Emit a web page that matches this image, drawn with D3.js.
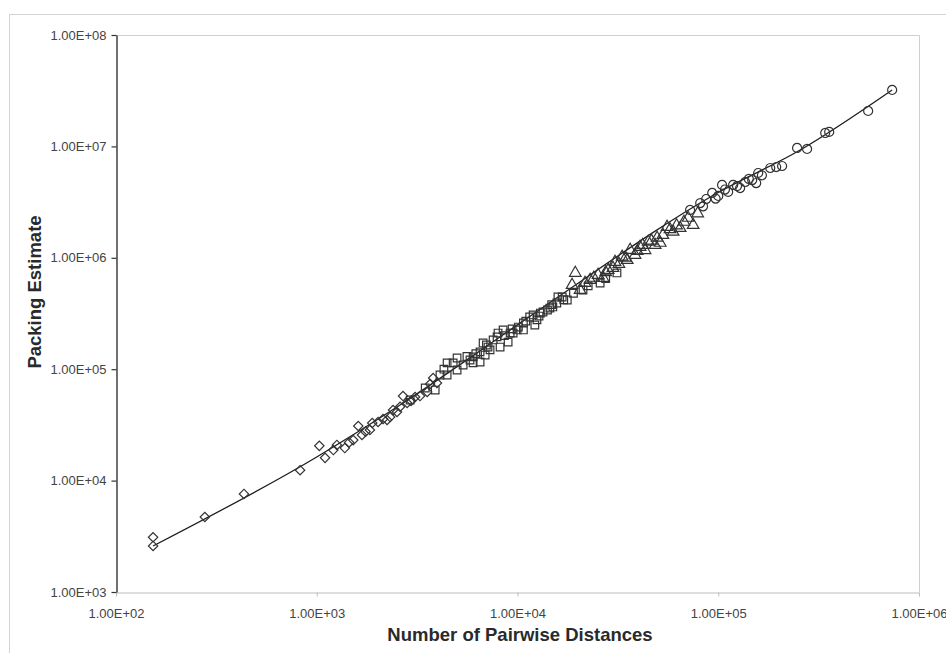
<!DOCTYPE html>
<html>
<head>
<meta charset="utf-8">
<script src="https://cdn.jsdelivr.net/npm/d3@7"></script>
<style>
  body { margin: 0; background: #fff; }
  svg { display: block; font-family: Arial, "Liberation Sans", sans-serif; }
</style>
</head>
<body>
<script>
// tick values and their labels
var xTicks = [1e2, 1e3, 1e4, 1e5, 1e6];
var xTickLabels = ["1.00E+02", "1.00E+03", "1.00E+04", "1.00E+05", "1.00E+06"];
var yTicks = [1e3, 1e4, 1e5, 1e6, 1e7, 1e8];
var yTickLabels = ["1.00E+03", "1.00E+04", "1.00E+05", "1.00E+06", "1.00E+07", "1.00E+08"];

// diamonds: [pairwise distances, packing estimate]
var diamonds = [
  [153, 3100], [153, 2590], [277, 4710], [434, 7590], [826, 12400],
  [1030, 20500], [1100, 16000], [1210, 18800], [1260, 20900], [1380, 19600],
  [1450, 22000], [1520, 23100], [1610, 30900], [1680, 25700], [1750, 27500],
  [1840, 28500], [1890, 32900], [2020, 33600], [2140, 35700], [2240, 35000],
  [2320, 37200], [2400, 43000], [2510, 41300], [2600, 46000], [2690, 57400],
  [2820, 49700], [2950, 52000], [3090, 56300], [3270, 57400], [3550, 62400],
  [3670, 73600], [3800, 83400], [3970, 75200]
];

// squares
var squares = [
  [2920, 52900], [3470, 67800], [3890, 65000], [4110, 88700], [4300, 100000],
  [4460, 88700], [4460, 114000], [4780, 114000], [5000, 98400], [5000, 126000],
  [5360, 109000], [5600, 130000], [5800, 121000], [6010, 129000], [6010, 114000],
  [6200, 138000], [6510, 116000], [6510, 143000], [6740, 172000], [6900, 134000],
  [7000, 165000], [7130, 158000], [7300, 149000], [7560, 183000], [7910, 195000],
  [8000, 211000], [8190, 158000], [8480, 225000], [8600, 200000], [8980, 175000],
  [9190, 211000], [9400, 230000], [9510, 211000], [9950, 225000], [10100, 239000],
  [10700, 260000], [10700, 225000], [11000, 270000], [11500, 294000], [11960, 307000],
  [12200, 249000], [12500, 277000], [12800, 300000], [13000, 319000], [13400, 326000],
  [14100, 340000], [14500, 354000], [14800, 380000], [15000, 362000], [15700, 393000],
  [15900, 445000], [16700, 445000], [17000, 420000], [17700, 418000], [19000, 480000],
  [21200, 514000], [22500, 560000], [25800, 594000], [27500, 650000], [31300, 731000]
];

// triangles
var triangles = [
  [18700, 570000], [19400, 731000], [20500, 514000], [21700, 594000], [23000, 632000],
  [24000, 660000], [25200, 701000], [26700, 659000], [27500, 740000], [28300, 777000],
  [29900, 810000], [30600, 917000], [32000, 880000], [33200, 1020000], [34500, 1000000],
  [35200, 955000], [36400, 1175000], [38500, 1060000], [39500, 1150000], [40800, 1250000],
  [42000, 1300000], [43200, 1170000], [44800, 1390000], [46500, 1420000], [48500, 1300000],
  [49600, 1510000], [51400, 1360000], [53000, 1600000], [55600, 1890000], [57500, 1800000],
  [59600, 1710000], [62000, 1950000], [64600, 1850000], [67500, 2100000], [70800, 2280000],
  [75000, 1970000], [79000, 2500000]
];

// circles
var circles = [
  [72400, 2690000], [81300, 3100000], [84000, 2900000], [87100, 3370000], [93300, 3820000],
  [97000, 3400000], [100000, 3590000], [104500, 4510000], [108000, 4100000], [112000, 3900000],
  [118600, 4510000], [124000, 4400000], [128500, 4230000], [136200, 4790000], [142000, 5100000],
  [147600, 4990000], [154500, 4690000], [158100, 5770000], [165000, 5500000], [181500, 6400000],
  [194400, 6530000], [208000, 6670000], [247000, 9680000], [277000, 9480000], [341000, 13200000],
  [357000, 13500000], [558000, 20800000], [735000, 32100000]
];

// fitted trend line
var fitX = [153, 1000, 2600, 10000, 15900, 100000, 256000, 735000];
var fitY = [2590, 16300, 47700, 250000, 445000, 3860000, 9280000, 32100000];

var W = 946, H = 653;
var plot = {left: 116, right: 919, top: 35, bottom: 592};

var svg = d3.select("body").append("svg")
    .attr("width", W)
    .attr("height", H);

// outer chart border
svg.append("rect")
    .attr("x", 9.5).attr("y", 14.5)
    .attr("width", 960).attr("height", 680)
    .attr("fill", "#fff")
    .attr("stroke", "#d4d4d4");

var x = d3.scaleLog().domain([1e2, 1e6]).range([plot.left, plot.right]);
var y = d3.scaleLog().domain([1e3, 1e8]).range([plot.bottom, plot.top]);

// plot area border (top + right)
svg.append("path")
    .attr("d", "M" + plot.left + "," + (plot.top + 0.5) + "H" + (plot.right + 0.5) + "V" + plot.bottom)
    .attr("fill", "none")
    .attr("stroke", "#cfcfcf");

// x axis
var gx = svg.append("g")
    .attr("transform", "translate(0," + (plot.bottom + 0.5) + ")")
    .call(d3.axisBottom(x).tickValues(xTicks)
        .tickFormat(function(d, i) { return xTickLabels[i]; })
        .tickSize(4).tickPadding(12).tickSizeOuter(0));
gx.select(".domain").attr("stroke", "#bdbdbd");
gx.selectAll(".tick line").attr("stroke", "#bdbdbd");
gx.selectAll(".tick text")
    .attr("font-size", "13px")
    .attr("fill", "#444")
    .attr("font-family", "Arial, 'Liberation Sans', sans-serif");

// y axis
var gy = svg.append("g")
    .attr("transform", "translate(" + (plot.left + 0.5) + ",0)")
    .call(d3.axisLeft(y).tickValues(yTicks)
        .tickFormat(function(d, i) { return yTickLabels[i]; })
        .tickSize(5).tickPadding(5).tickSizeOuter(0));
gy.select(".domain").attr("stroke", "#333").attr("stroke-width", 1.4);
gy.selectAll(".tick line").attr("stroke", "#333").attr("stroke-width", 1.2);
gy.selectAll(".tick text")
    .attr("font-size", "13px")
    .attr("fill", "#444")
    .attr("font-family", "Arial, 'Liberation Sans', sans-serif");

// trend line
var fit = fitX.map(function(d, i) { return [d, fitY[i]]; });
svg.append("path")
    .datum(fit)
    .attr("fill", "none")
    .attr("stroke", "#1e1e1e")
    .attr("stroke-width", 1.3)
    .attr("d", d3.line()
        .x(function(d) { return x(d[0]); })
        .y(function(d) { return y(d[1]); })
        .curve(d3.curveMonotoneX));

var markStroke = "#333";

function drawSymbol(data, type, size, rot) {
    svg.append("g").selectAll("path")
        .data(data)
        .enter()
        .append("path")
        .attr("transform", function(d) {
            return "translate(" + x(d[0]) + "," + y(d[1]) + ")" + (rot ? " rotate(" + rot + ")" : "");
        })
        .attr("d", d3.symbol().type(type).size(size))
        .attr("fill", "none")
        .attr("stroke", markStroke)
        .attr("stroke-width", 1.2);
}

// diamond = square turned 45deg
drawSymbol(diamonds, d3.symbolSquare, 44, 45);
drawSymbol(squares, d3.symbolSquare, 58);
drawSymbol(triangles, d3.symbolTriangle, 58);
drawSymbol(circles, d3.symbolCircle, 64);

// axis titles
svg.append("text")
    .attr("x", 520)
    .attr("y", 641)
    .attr("text-anchor", "middle")
    .attr("font-size", "18.5px")
    .attr("font-weight", "bold")
    .attr("fill", "#2a2a2a")
    .text("Number of Pairwise Distances");

svg.append("text")
    .attr("transform", "translate(41,292) rotate(-90)")
    .attr("text-anchor", "middle")
    .attr("font-size", "18.5px")
    .attr("font-weight", "bold")
    .attr("fill", "#2a2a2a")
    .text("Packing Estimate");
</script>
</body>
</html>
